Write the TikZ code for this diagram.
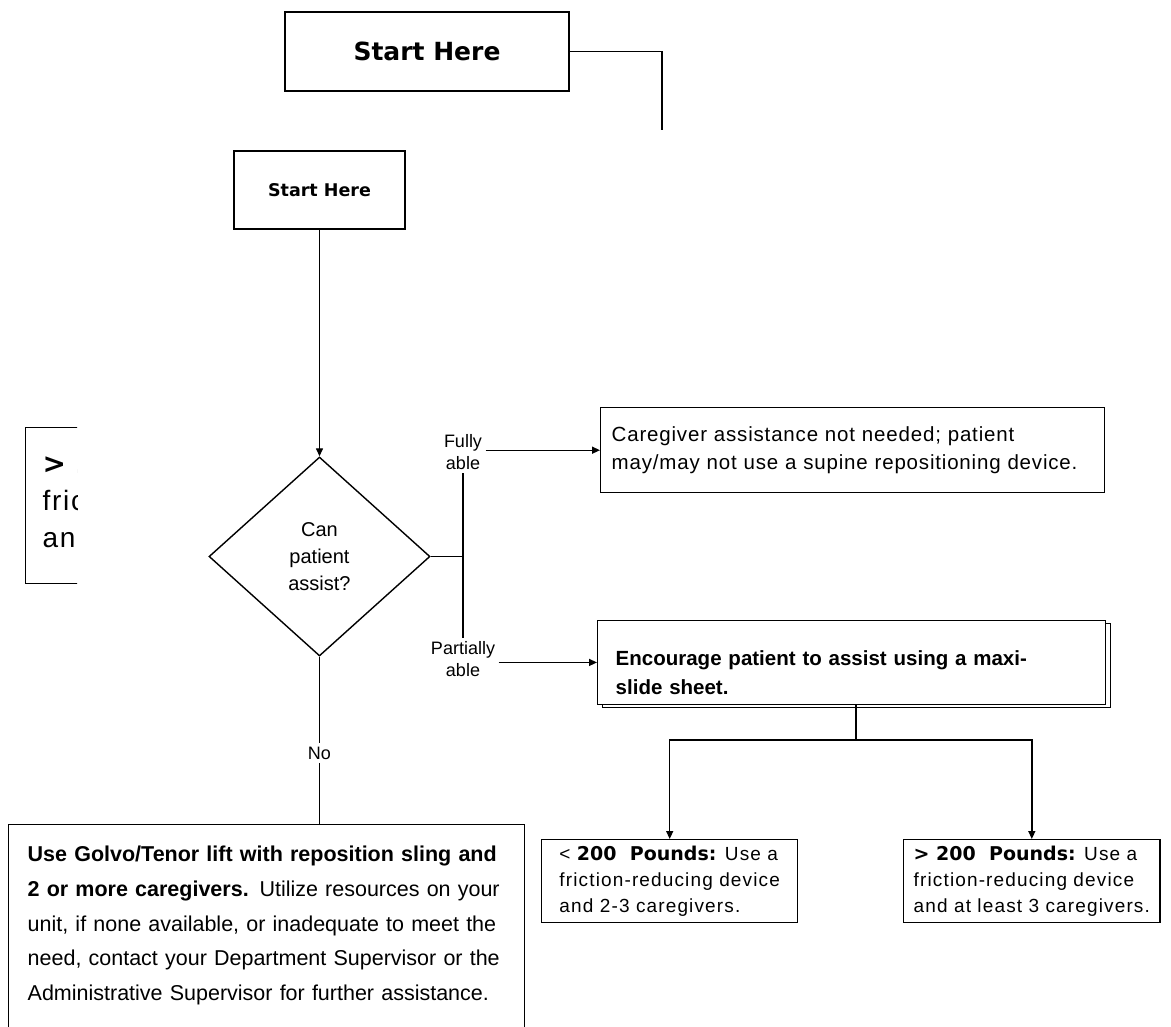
\documentclass[tikz,border=0pt]{standalone}
\usepackage{fontspec}
\setmainfont{Liberation Sans}
\newfontfamily\headfont{DejaVu Sans}
\newfontfamily\spacedfont[LetterSpace=4]{Liberation Sans}
\newfontfamily\widefont[LetterSpace=6]{Liberation Sans}
\usetikzlibrary{shapes.geometric,arrows.meta,shadows}
\newcommand{\topgap}[1]{\rule{0pt}{#1pt}}
\newcommand{\botgap}[1]{\rule[-#1pt]{0pt}{#1pt}}

\begin{document}
\begin{tikzpicture}[x=1pt,y=-1pt,line width=1.4pt,
    box/.style={draw,rectangle,fill=white,inner ysep=0pt,align=left,anchor=north west},
    arr/.style={-{Triangle[length=8pt,width=7pt]}},
    lbl/.style={font={\fontsize{18}{22}\selectfont},align=center,inner sep=3pt}]
  \useasboundingbox (0,0) rectangle (1171,1027);
  \clip (0,0) rectangle (1171,1027);
  % leftover heading box at the top
  \node[draw,minimum width=284pt,minimum height=79pt,
        font={\headfont\bfseries\fontsize{25}{30}\selectfont}] (start) at (427,51.5) {Start Here};
  \coordinate (cut) at (662,130);
  \draw (start.east) -| (cut);
  % leftover box cut off at the left
  \begin{scope}
    \clip (0,400) rectangle (77,620);
    \node[box,font={\widefont\fontsize{28}{37}\selectfont},inner xsep=17pt] (old) at (25,427)
      {\topgap{46}{\headfont\bfseries > 200\ \ Pounds:} Use a\\friction-reducing device\\and at least 3 caregivers.\botgap{36}};
  \end{scope}
  % main flow
  \node[draw,minimum width=171pt,minimum height=78pt,
        font={\headfont\bfseries\fontsize{17.5}{21}\selectfont}] (begin) at (319.5,190) {Start Here};
  \node[draw,diamond,aspect=1.12,minimum width=221pt,minimum height=199pt,inner sep=0pt,
        align=center,font={\fontsize{20}{27}\selectfont}] (ask) at (319.5,556.5) {Can\\patient\\assist?};
  \draw[arr] (begin) -- (ask);
  % answers
  \node[lbl] (full) at (463,452) {Fully\\able};
  \node[lbl] (part) at (463,659) {Partially\\able};
  \node[lbl] (no) at (319.5,753) {No};
  \node[box,font={\spacedfont\fontsize{20.5}{28}\selectfont},inner xsep=11pt,text width=482pt] (care) at (600,407)
    {\topgap{34}Caregiver assistance not needed; patient\\may/may not use a supine repositioning device.\botgap{23}};
  \node[box,copy shadow={shadow xshift=5pt,shadow yshift=-3pt},
        font={\bfseries\fontsize{20.5}{28.5}\selectfont},inner xsep=18pt,text width=472pt] (enc) at (597,620)
    {\topgap{45}Encourage patient to assist using a maxi-\\slide sheet.\botgap{10}};
  \draw (ask.east) -- (ask.east -| full.south);
  \draw (full.south) -- (part.north);
  \draw[arr] (full.east |- care.west) -- (care.west);
  \draw[arr] (part.east |- enc.west) -- (enc.west);
  % weight split
  \node[box,font={\widefont\fontsize{19}{26}\selectfont},inner xsep=10pt,minimum width=256pt] (lo) at (541,839)
    {\topgap{21}< {\headfont\bfseries 200\ \ Pounds:} Use a\\friction-reducing device\\and 2-3 caregivers.\botgap{10}};
  \node[box,font={\widefont\fontsize{19}{26}\selectfont},inner xsep=10pt] (hi) at (903,839)
    {\topgap{21}{\headfont\bfseries > 200\ \ Pounds:} Use a\\friction-reducing device\\and at least 3 caregivers.\botgap{10}};
  \coordinate (fork) at (856,740);
  \draw (fork |- enc.south) -- (fork);
  \draw[arr] (fork) -| (lo.north);
  \draw[arr] (fork) -| (hi.north);
  % cannot assist
  \node[box,font={\fontsize{21.5}{34.75}\selectfont},inner xsep=19pt,text width=478pt] (use) at (8,824)
    {\topgap{37}\textbf{Use Golvo/Tenor lift with reposition sling and}\\
     \textbf{2 or more caregivers.} Utilize resources on your\\
     unit, if none available, or inadequate to meet the\\
     need, contact your Department Supervisor or the\\
     Administrative Supervisor for further assistance.\botgap{80}};
  \draw (ask.south) -- (no.north);
  \draw (no.south) -- (no.south |- use.north);
\end{tikzpicture}
\end{document}
